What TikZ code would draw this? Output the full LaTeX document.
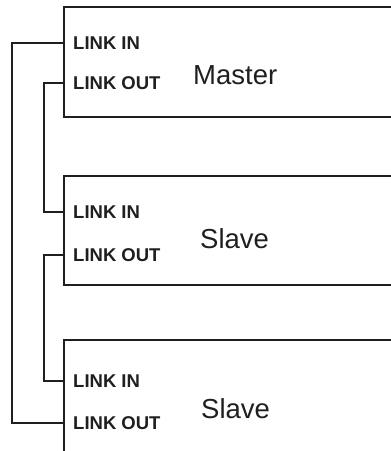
\documentclass[tikz,border=0pt]{standalone}
\usepackage{fontspec}
\setmainfont{Liberation Sans}
\begin{document}
\begin{tikzpicture}[x=1pt,y=-1pt,
  box/.style={draw=black!88,line width=2.2pt},
  wire/.style={draw=black!88,line width=2pt},
  port/.style={anchor=base west,inner sep=0pt,font=\fontsize{18.5}{18.5}\selectfont\bfseries,text=black!88},
  title/.style={anchor=base west,inner sep=0pt,font=\fontsize{27.5}{27.5}\selectfont,text=black!88}]
\useasboundingbox (0,0) rectangle (391,451);
% boxes (open to the right)
\draw[box] (392,7) -- (64,7) -- (64,117) -- (392,117);
\draw[box] (392,176) -- (64,176) -- (64,285) -- (392,285);
\draw[box] (392,340) -- (64,340) -- (64,452);
% ports
\coordinate (mIn) at (64,43);
\coordinate (mOut) at (64,83);
\coordinate (s1In) at (64,212);
\coordinate (s1Out) at (64,255);
\coordinate (s2In) at (64,381);
\coordinate (s2Out) at (64,423);
\node[port] (mInL) at (73,49.5) {LINK IN};
\node[port] (mOutL) at (73,89.5) {LINK OUT};
\node[port] (s1InL) at (73,218.5) {LINK IN};
\node[port] (s1OutL) at (73,261.5) {LINK OUT};
\node[port] (s2InL) at (73,387.5) {LINK IN};
\node[port] (s2OutL) at (73,429.5) {LINK OUT};
\node[title] (master) at (193,84) {Master};
\node[title] (slave1) at (200,248) {Slave};
\node[title] (slave2) at (201,418) {Slave};
% wires
\draw[wire] (mIn) -- ++(-52,0) |- (s2Out);
\draw[wire] (mOut) -- ++(-20,0) |- (s1In);
\draw[wire] (s1Out) -- ++(-20,0) |- (s2In);
\end{tikzpicture}
\end{document}
